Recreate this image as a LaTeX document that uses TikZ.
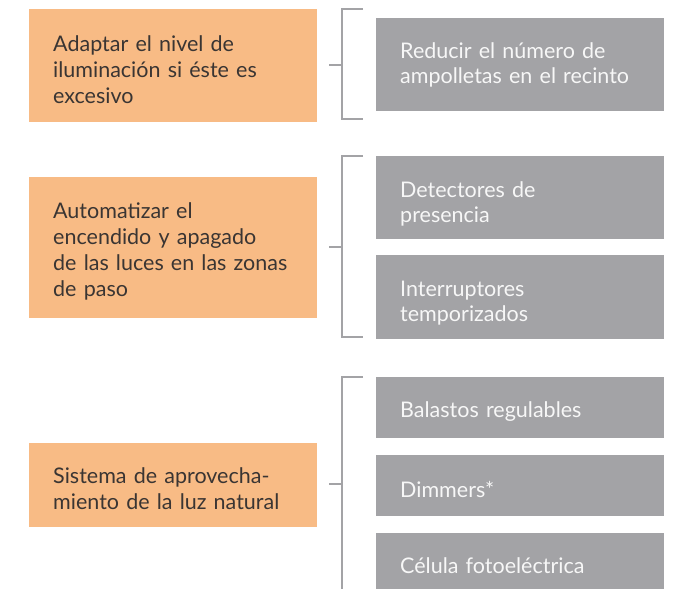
\documentclass[tikz,border=0pt]{standalone}
\usepackage{fontspec}
\setmainfont{Lato}
\definecolor{orangefill}{HTML}{F8BB85}
\definecolor{grayfill}{HTML}{A3A3A6}
\definecolor{brackgray}{HTML}{A3A3A6}
\definecolor{darktext}{HTML}{3A3533}
\definecolor{lighttext}{HTML}{F7F7F7}
\tikzset{
  obox/.style={rectangle, fill=orangefill, draw=none, minimum width=288pt, text width=240pt,
    inner xsep=24pt, inner ysep=0pt, align=left, text=darktext, anchor=north west,
    font=\fontsize{21.5}{26}\selectfont, execute at begin node={\rule{0pt}{23pt}}},
  gbox/.style={rectangle, fill=grayfill, draw=none, minimum width=288pt, text width=240pt,
    inner xsep=24pt, inner ysep=0pt, align=left, text=lighttext, anchor=north west,
    font=\fontsize{21.5}{25}\selectfont},
  lowtext/.style={execute at begin node={\rule{0pt}{23pt}}},
  brack/.style={draw=brackgray, line width=2pt},
}
\begin{document}
\begin{tikzpicture}[x=1pt,y=-1pt]
\useasboundingbox (0,0) rectangle (676,588);
\clip (0,0) rectangle (676,588);
% orange boxes
\node[obox, minimum height=113pt] (o1) at (29,9) {Adaptar el nivel de\\iluminación si éste es\\excesivo};
\node[obox, minimum height=141pt] (o2) at (29,177) {Automatizar el\\encendido y apagado\\de las luces en las zonas\\de paso};
\node[obox, minimum height=84pt] (o3) at (29,443) {Sistema de aprovecha-\\miento de la luz natural};
% gray boxes
\node[gbox, minimum height=93pt] (g1) at (376,18) {Reducir el número de\\ampolletas en el recinto};
\node[gbox, minimum height=83pt] (g2) at (376,156) {};
\node[gbox, minimum height=84pt] (g3) at (376,255) {};
\node[gbox, lowtext, minimum height=61pt] (g4) at (376,377) {Balastos regulables};
\node[gbox, lowtext, minimum height=61pt] (g5) at (376,455) {Dimmers*};
\node[gbox, minimum height=61pt] (g6) at (376,533) {};
% texts in gray boxes (placed lower as in reference)
\node[gbox, fill=none, anchor=west] (t2) at ([yshift=-6pt]g2.west) {Detectores de\\presencia};
\node[gbox, fill=none, anchor=west] (t3) at ([yshift=-6pt]g3.west) {Interruptores\\temporizados};
\node[gbox, fill=none, anchor=base west] (t6) at (376,573) {Célula fotoeléctrica};
% brackets
\coordinate (b1t) at (363,9);  \coordinate (b1b) at (363,119); \coordinate (b1m) at (342,65); \coordinate (b1s) at (329,65);
\coordinate (b2t) at (363,156); \coordinate (b2b) at (363,337); \coordinate (b2m) at (342,247); \coordinate (b2s) at (329,247);
\coordinate (b3t) at (363,377); \coordinate (b3b) at (342,600); \coordinate (b3m) at (342,484); \coordinate (b3s) at (329,484);
\draw[brack] (b1t) -| (b1m) |- (b1b);
\draw[brack] (b1s) -- (b1m);
\draw[brack] (b2t) -| (b2m) |- (b2b);
\draw[brack] (b2s) -- (b2m);
\draw[brack] (b3t) -| (b3m) -- (b3b);
\draw[brack] (b3s) -- (b3m);
\end{tikzpicture}
\end{document}
